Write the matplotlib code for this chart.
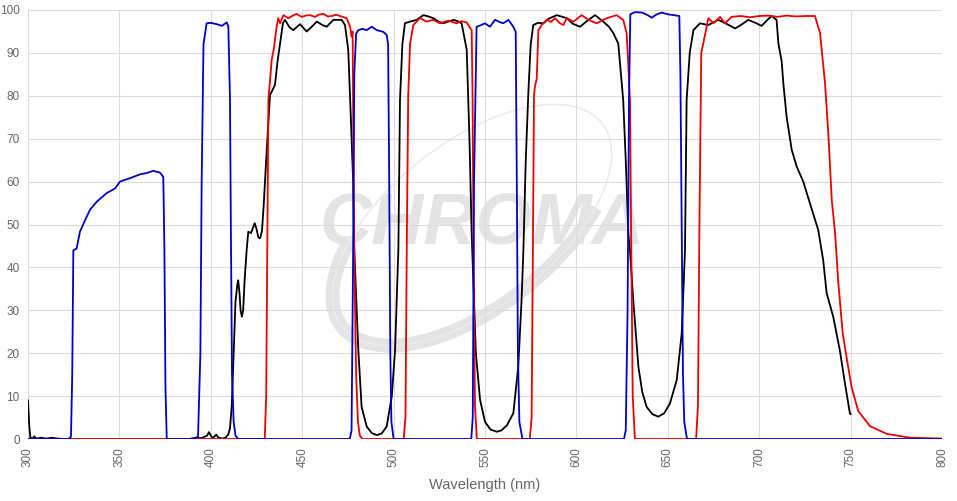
import matplotlib
matplotlib.use("Agg")
import matplotlib.pyplot as plt
from matplotlib.patches import Ellipse, Arc
from matplotlib.transforms import IdentityTransform

# transmission curves (wavelength nm, %T)
blue_x = [300, 322, 323.5, 324.2, 324.8, 326.6, 328.4, 331.2, 334, 337.6, 340, 343, 347.6, 350.3,
          355.8, 361.3, 365, 368.5, 372.2, 374, 374.6, 375.2, 375.9, 390, 393, 394.3, 395, 396,
          397.7, 400, 403.2, 406, 408.7, 409.6, 410.5, 411, 411.6, 412.5, 413.5, 415,
          476, 477, 477.8, 478.5, 479.5, 480.7, 483, 485.3, 488, 490.8, 494.4, 496.2, 497,
          497.6, 498.2, 498.8, 500, 542.5, 543.3, 544, 545.4, 548, 550, 552.7, 555.5, 558,
          560, 562.8, 565.5, 566.8, 567.4, 568, 568.8, 570.5, 626, 627, 628, 628.8, 629.5,
          632, 636, 639, 641.2, 644, 646.6, 650, 654.8, 656.3, 656.9, 657.6, 658.3, 659,
          660.5, 800]
blue_y = [0, 0, 0.5, 15, 44, 44.4, 48.3, 51, 53.5, 55.3, 56.2, 57.3, 58.4, 60,
          60.8, 61.7, 62, 62.5, 62.1, 61.1, 45, 12, 0, 0, 0.5, 20, 60, 92,
          96.9, 97, 96.7, 96.3, 97.1, 96.1, 79, 48, 15, 4, 0.8, 0,
          0, 2, 40, 85, 94.5, 95.3, 95.6, 95.3, 96.1, 95.3, 94.9, 94.2, 92,
          60, 20, 4, 0, 0, 5, 60, 96.1, 96.5, 96.9, 96.1, 97.7, 97.2,
          96.9, 97.7, 96.1, 94.9, 60, 20, 4, 0, 0, 2, 30, 80, 99,
          99.5, 99.4, 98.8, 98.2, 99, 99.4, 99, 98.7, 98.6, 85, 50, 15, 4,
          0, 0]

red_x = [300, 429.5, 430.3, 431, 431.5, 433.3, 434.5, 436, 436.9, 437.9, 439.7, 442.4, 444.5,
         446.9, 449.7, 452, 454.3, 457, 459, 461.6, 464, 466.2, 468.5, 470.7, 474.3, 476.2,
         477, 477.6, 478.3, 479.5, 480.5, 481.5, 483, 505.5, 506.5, 507.3, 508, 509, 510.8,
         514.4, 518.1, 521.7, 525.4, 529.9, 534.5, 537, 540, 542.7, 543.2, 543.8, 544.5,
         545.5, 574.5, 575.5, 576.3, 576.8, 577.3, 578.3, 579.2, 581, 584, 586, 588.3, 591,
         592.9, 594.7, 598.4, 602.9, 606.6, 611.1, 616.6, 619, 622, 625.6, 627.5, 628.3,
         629.3, 629.9, 630.8, 632, 665.5, 666.5, 667.3, 668.3, 669.4, 672.2, 674.9, 678.6,
         681.3, 684.9, 690, 695, 700, 705, 710, 715, 720, 726, 730.5, 733.3, 736, 737.8,
         739.7, 741.5, 743.3, 745.7, 748.2, 750.6, 754.2, 760.6, 769.7, 782.5, 800]
red_y = [0, 0, 10, 50, 79, 88.3, 91, 96.1, 98.1, 96.9, 98.8, 98.1, 98.6,
         99.1, 98.4, 98.7, 98.8, 98.4, 98.9, 99.1, 98.5, 98.6, 98.9, 98.6, 98.1, 96.1,
         93.8, 95, 48, 15, 4, 0.8, 0, 0, 5, 50, 80, 92.2, 96.5,
         98.1, 97.3, 97.7, 96.9, 97.5, 96.9, 97.4, 97.1, 95.3, 80, 40, 8,
         0, 0, 5, 50, 80, 82.1, 84, 95.3, 96.5, 97.8, 97.2, 98.1, 96.9,
         96.5, 98.1, 97.3, 98.8, 97.7, 96.9, 98.1, 98.4, 98.8, 97.7, 94.6, 88,
         79, 50, 10, 0, 0, 8, 50, 90, 92.2, 98.1, 96.9, 98.4,
         96.9, 98.4, 98.6, 98.3, 98.6, 98.7, 98.4, 98.7, 98.5, 98.6, 98.6, 94.6, 82.9, 71.3,
         55.7, 48, 36.3, 24.6, 18, 12, 6.5, 3.0, 1.2, 0.3, 0.1]

black_x = [300, 300.7, 301.3, 302.5, 303.5, 304.5, 307, 310, 313, 316, 320, 388, 392, 395,
           398, 399, 400, 401, 402, 403, 404, 406, 408, 409.5, 410.5, 411.5, 412.5, 413.5,
           414.5, 415, 415.7, 416.3, 417, 417.7, 418.5, 419.6, 420.5, 422, 423.3, 424, 425,
           426, 427, 428, 429, 430.6, 432.4, 435.1, 436.5, 437.9, 439.5, 440.6, 443, 445.1,
           448.8, 452.4, 455, 458, 461, 463.4, 467, 471.6, 473.4, 475.2, 476.6, 477.9, 478.5,
           480.7, 482.5, 485.3, 488, 490.8, 493.5, 496.2, 499, 500.8, 502.6, 503.5, 504.8,
           506.2, 509, 512.6, 516.3, 519, 521.7, 524.5, 527.2, 530, 532.7, 535, 537.2, 540,
           541.5, 542.7, 545, 547.3, 550, 553, 556.4, 559, 562, 565.5, 568.2, 570, 571,
           572.3, 573.7, 575, 576.4, 579, 581.9, 585, 589.2, 594.7, 598, 602, 606, 610.2,
           614.7, 618, 620.2, 622.9, 625.6, 627, 628.4, 629.3, 631.1, 633.9, 636, 638.4,
           641.5, 644.8, 648, 651.2, 654.9, 657.6, 659.4, 660.3, 662, 664, 667.6, 672.2,
           677.6, 682, 686.8, 690, 694, 698, 701.3, 704, 706.8, 709.5, 710.5, 712.3, 713.2,
           715, 717.8, 720.5, 724.1, 727.8, 732.3, 735, 736.9, 740.5, 744.1, 746.9, 749.6, 750]
black_y = [9, 3, 0.3, 0.1, 0.6, 0.1, 0.3, 0.1, 0.3, 0.1, 0, 0, 0.3, 0.2,
           0.8, 1.6, 0.8, 0.2, 0.6, 1.0, 0.4, 0.1, 0.3, 1, 2.5, 8, 20, 32,
           36, 37, 34, 30, 28.5, 30, 37, 44, 48.3, 48, 49.5, 50.3, 49,
           47, 46.8, 48.5, 55, 67.4, 80.2, 82.5, 88, 92.2, 97, 97.7, 96, 95.3,
           96.7, 95, 96, 97.3, 96.5, 96.1, 97.7, 97.7, 96.5, 90.7, 75, 59.6, 44,
           20.7, 7.5, 2.9, 1.4, 0.9, 1.3, 2.9, 9.9, 20.7, 44, 79, 92,
           96.9, 97.3, 97.7, 98.8, 98.5, 98.1, 97.3, 96.9, 97.3, 97.7, 97.4, 96.9, 90.7,
           70, 48, 20, 9.1, 4, 2.2, 1.7, 2, 3.2, 6, 16.9, 32.4, 44,
           65, 80.6, 92, 96.5, 97, 96.9, 98, 98.8, 98.1, 96.8, 96.1, 97.5, 98.8,
           97.3, 96, 94.6, 92.2, 79, 65, 48, 44, 32.4, 16.9, 11, 7.5,
           5.8, 5.2, 6, 8.3, 13.8, 24.6, 44, 79, 90, 95.3, 96.9, 96.5,
           97.7, 96.8, 95.7, 96.5, 97.7, 97, 96.3, 97.5, 98.6, 97.7, 92.2, 88, 82.9,
           75.1, 67.4, 63.5, 60, 54.9, 48.7, 41.7, 34, 28.5, 20.7, 13, 6, 5.8]

x_ticks = [300, 350, 400, 450, 500, 550, 600, 650, 700, 750, 800]
y_ticks = [0, 10, 20, 30, 40, 50, 60, 70, 80, 90, 100]

fig = plt.figure(figsize=(9.57, 5.01), dpi=100)
ax = fig.add_axes([28 / 957, 1 - 439 / 501, 914 / 957, 429 / 501])

# faint logo watermark
ax.text(0.497, 0.50, "CHROMA", transform=ax.transAxes, ha="center", va="center",
        fontsize=52, fontweight="bold", fontstyle="italic", color="#e4e4e4",
        family="Liberation Sans", zorder=0)
ell = Arc((472, 501 - 225), 330, 165, angle=38, theta1=150, theta2=330,
          transform=IdentityTransform(), color="#e4e4e4", lw=10, zorder=0)
ax.add_artist(ell)
ell2 = Ellipse((472, 501 - 225), 330, 165, angle=38, transform=IdentityTransform(),
               fill=False, edgecolor="#ebebeb", lw=1.2, zorder=0)
ax.add_artist(ell2)

ax.plot(black_x, black_y, color="black", lw=1.3, zorder=3)
ax.plot(red_x, red_y, color="#ee0000", lw=1.3, zorder=4)
ax.plot(blue_x, blue_y, color="#0000cc", lw=1.3, zorder=5)

ax.set_xlim(300, 800)
ax.set_ylim(0, 100)
ax.set_xticks(x_ticks)
ax.set_yticks(y_ticks)
ax.set_xticklabels([str(t) for t in x_ticks], rotation=90)
ax.grid(True, color="#dcdcdc", lw=0.8, zorder=1)
ax.set_axisbelow(True)
for s in ax.spines.values():
    s.set_visible(False)
ax.tick_params(length=0, labelsize=8.5, labelcolor="#666666", pad=6)
for lab in ax.get_xticklabels() + ax.get_yticklabels():
    lab.set_family("Liberation Sans")
ax.set_xlabel("Wavelength (nm)", fontsize=10.5, color="#666666", family="Liberation Sans",
              labelpad=8)

fig.savefig("out.png", dpi=100)
